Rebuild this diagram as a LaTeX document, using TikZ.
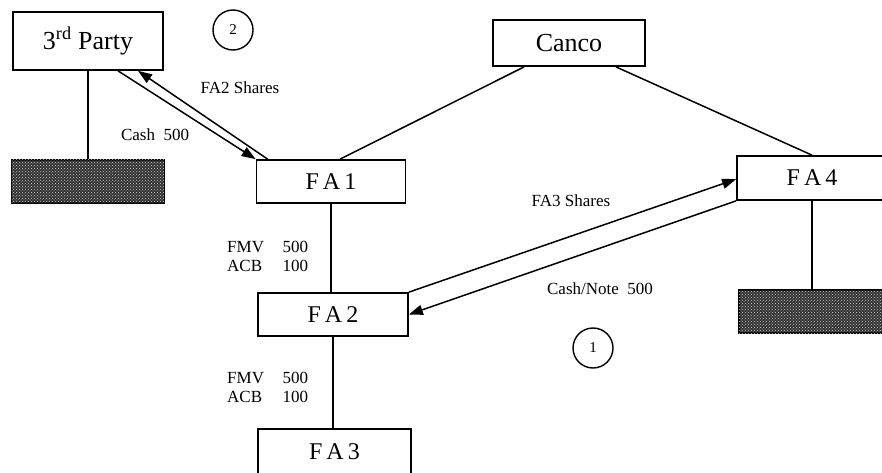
\documentclass[tikz,border=0pt]{standalone}
\usepackage{fontspec}
\setmainfont{Liberation Serif}
\usetikzlibrary{arrows.meta,calc,patterns}
\begin{document}
\begin{tikzpicture}[x=1pt,y=-1pt,
  entity/.style={draw,line width=1.7pt,inner sep=0pt,font=\fontsize{24}{26}\selectfont},
  bigentity/.style={entity,font=\fontsize{26}{28}\selectfont},
  hidden/.style={draw,line width=1.7pt,inner sep=0pt,fill=black!80,
    postaction={pattern=crosshatch dots,pattern color=white!80!black}},
  link/.style={line width=1.5pt},
  flow/.style={line width=1.5pt,-{Triangle[length=14pt,width=10pt]}},
  lbl/.style={font=\fontsize{17}{19}\selectfont,inner sep=0pt},
  stepmark/.style={draw,circle,line width=1.4pt,minimum size=40pt,inner sep=0pt,font=\fontsize{15}{16}\selectfont}]
\useasboundingbox (0,0) rectangle (882,473);

% entities
\node[bigentity,minimum width=150pt,minimum height=58pt] (party) at (88,41) {3\textsuperscript{rd} Party};
\node[bigentity,minimum width=152pt,minimum height=46pt] (canco) at (569,43) {Canco};
\node[entity,minimum width=149pt,minimum height=43pt] (fa1) at (331,181.5) {F\,A\,1};
\node[entity,minimum width=150pt,minimum height=44pt] (fa4) at (812,178) {F\,A\,4};
\node[entity,minimum width=150pt,minimum height=43pt] (fa2) at (333,314.5) {F\,A\,2};
\node[entity,minimum width=153pt,minimum height=46pt] (fa3) at (334.5,452) {F\,A\,3};
\node[hidden,minimum width=153pt,minimum height=43pt] (hidL) at (88,181.5) {};
\node[hidden,minimum width=148pt,minimum height=43pt] (hidR) at (813,311.5) {};

% step markers
\node[stepmark] (s2) at (233,30) {2};
\node[stepmark] (s1) at (593,348) {1};

% ownership lines
\draw[link] (party.south) -- (hidL.north);
\draw[link] ($(canco.south west)+(32,0)$) -- ($(fa1.north)+(9,0)$);
\draw[link] ($(canco.south east)+(-30,0)$) -- (fa4.north);
\draw[link] (fa4.south) -- (fa4.south |- hidR.north);
\draw[link] (fa1.south) -- (fa1.south |- fa2.north);
\draw[link] (fa2.south) -- (fa2.south |- fa3.north);

% transfers
\draw[flow] ($(party.south)+(30,0)$) -- (fa1.north west);
\draw[flow] ($(fa1.north west)+(12,0)$) -- ($(party.south)+(50,0)$);
\draw[flow] (fa2.north east) -- ($(fa4.north west)+(0,24)$);
\draw[flow] (fa4.south west) -- (fa2.east);

% labels
\node[lbl] (l1) at (240,88) {FA2 Shares};
\node[lbl] (l2) at (155,135) {Cash\ \ 500};
\node[lbl] (l3) at (571,201) {FA3 Shares};
\node[lbl] (l4) at (600,289) {Cash/Note\ \ 500};
\node[lbl,align=left,anchor=west] (v1) at (227,256) {FMV\hspace{1.1em}500\\ACB\hspace{1.2em}100};
\node[lbl,align=left,anchor=west] (v2) at (227,387) {FMV\hspace{1.1em}500\\ACB\hspace{1.2em}100};
\end{tikzpicture}
\end{document}
